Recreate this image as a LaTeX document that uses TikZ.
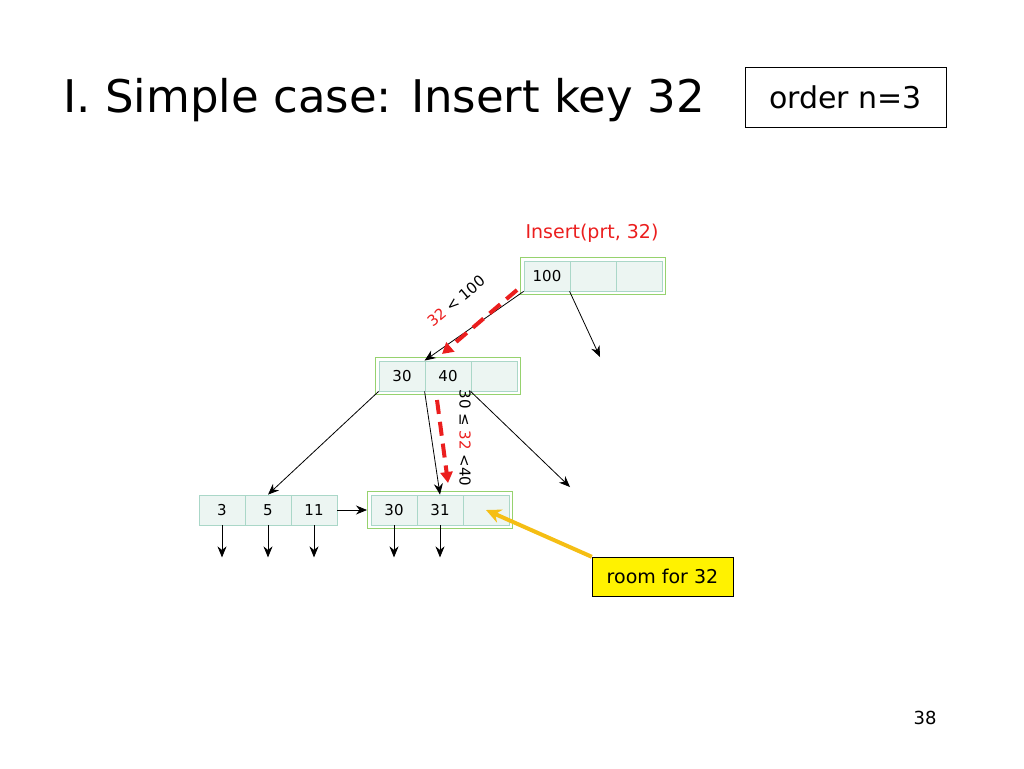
\documentclass[tikz,border=0pt]{standalone}
\usepackage{fontspec}
\setmainfont{DejaVu Sans}
\usetikzlibrary{fit,arrows.meta}
\definecolor{cellfill}{RGB}{236,245,242}
\definecolor{cellline}{RGB}{170,215,200}
\definecolor{nodeline}{RGB}{150,210,110}
\definecolor{hotred}{RGB}{235,30,30}
\definecolor{arrowyel}{RGB}{245,190,20}
\tikzset{
  cell/.style={draw=cellline,thick,fill=cellfill,minimum width=46pt,minimum height=30pt,inner sep=0pt,font=\fontsize{15}{17}\selectfont},
  frame/.style={draw=nodeline,very thick,inner sep=3pt},
  ptr/.style={-{Stealth[length=11pt,width=9pt]},black,thick},
  probe/.style={hotred,line width=4pt,dash pattern=on 14pt off 8pt,-{Triangle[length=11pt,width=12pt]}},
}
\begin{document}
\begin{tikzpicture}[x=1pt,y=-1pt]
\useasboundingbox (0,0) rectangle (1024,768);
% title
\node[anchor=west,font=\fontsize{45}{50}\selectfont] (title) at (60,100) {I. Simple case: Insert key 32};
\node[draw,thick,font=\fontsize{30}{34}\selectfont,minimum width=201pt,minimum height=60pt] (order) at (845.5,97) {order n=3};
% root
\foreach \k/\t in {1/100,2/,3/} \node[cell] (r\k) at (501+46*\k,276) {\t};
\node[frame,fit=(r1)(r3)] (root) {};
% inner
\foreach \k/\t in {1/30,2/40,3/} \node[cell] (i\k) at (356+46*\k,376) {\t};
\node[frame,fit=(i1)(i3)] (inner) {};
% leaves
\foreach \k/\t in {1/3,2/5,3/11} \node[cell] (a\k) at (176+46*\k,510) {\t};
\foreach \k/\t in {1/30,2/31,3/} \node[cell] (b\k) at (348+46*\k,510) {\t};
\node[frame,fit=(b1)(b3)] (leaf) {};
% pointers
\coordinate (p1) at (600,357);
\coordinate (p2) at (570,487);
\draw[ptr] (r1.south west) -- (i2.north west);
\draw[ptr] (r2.south west) -- (p1);
\draw[ptr] (i1.south west) -- (a2.north);
\draw[ptr] (i2.south west) -- (b2.north);
\draw[ptr] (i3.south west) -- (p2);
\draw[ptr] (a3.east) -- (leaf.west);
\foreach \c in {a1,a2,a3,b1,b2} \draw[ptr] (\c.south) -- ++(0,32);
% search path
\draw[probe] (517,290) -- (442,354);
\draw[probe] (437,400) -- (448,483);
\node[rotate=40,font=\fontsize{15}{17}\selectfont] (lab1) at (456,301) {\textcolor{hotred}{32} < 100};
\node[rotate=-90,font=\fontsize{15}{17}\selectfont] (lab2) at (465,438) {30 ≤ \textcolor{hotred}{32} <40};
\node[hotred,font=\fontsize{19}{22}\selectfont] (call) at (592,233) {Insert(prt, 32)};
% room
\node[draw,fill=yellow,font=\fontsize{19}{22}\selectfont,minimum width=141pt,minimum height=39pt] (room) at (662.5,576.5) {room for 32};
\draw[arrowyel,line width=4pt,-{Stealth[length=15pt,width=14pt]}] (room.north west) -- (b3.center);
\node[font=\fontsize{18}{21}\selectfont] (page) at (925,718) {38};
\end{tikzpicture}
\end{document}
